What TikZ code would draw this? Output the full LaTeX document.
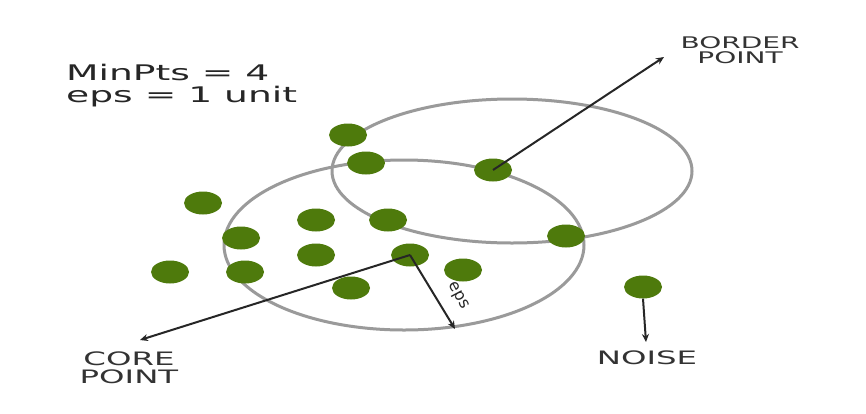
\documentclass[tikz,border=0pt]{standalone}
\usepackage{fontspec}
\setmainfont{DejaVu Sans}
\newfontfamily\widefont[FakeStretch=1.75]{DejaVu Sans}
\usetikzlibrary{shapes.geometric,arrows.meta}
\definecolor{dotgreen}{HTML}{4E7A0C}
\definecolor{ringgray}{HTML}{9A9A9A}
\tikzset{
  pt/.style={ellipse,fill=dotgreen,minimum width=38pt,minimum height=23pt,inner sep=0pt},
  ring/.style={draw=ringgray,line width=3pt},
  arr/.style={draw=black!85,line width=2pt,-{Stealth[length=8pt,width=7pt]}},
  lbl/.style={font=\widefont\fontsize{16}{15.5}\selectfont,text=black!80,align=center,inner sep=0pt},
  biglbl/.style={font=\widefont\fontsize{18.5}{18}\selectfont,text=black!80,align=center,inner sep=0pt}
}
\begin{document}
\begin{tikzpicture}[x=1pt,y=-1pt]
\useasboundingbox (0,0) rectangle (866,413);
\fill[white] (0,0) rectangle (866,413);
% rings
\draw[ring] (512,171) ellipse [x radius=180, y radius=72];
\draw[ring] (404,245) ellipse [x radius=180, y radius=85];
% points
\node[pt] (p1) at (348,135) {};
\node[pt] (p2) at (366,163) {};
\node[pt] (border) at (493,170) {};
\node[pt] (p4) at (203,203) {};
\node[pt] (p5) at (316,220) {};
\node[pt] (p6) at (388,220) {};
\node[pt] (p7) at (241,238) {};
\node[pt] (p8) at (566,236) {};
\node[pt] (p9) at (316,255) {};
\node[pt] (core) at (410,255) {};
\node[pt] (p11) at (170,272) {};
\node[pt] (p12) at (245,272) {};
\node[pt] (p13) at (463,270) {};
\node[pt] (p14) at (351,288) {};
\node[pt] (noise) at (643,287) {};
% labels
\node[anchor=west,align=left,inner sep=0pt,font=\widefont\fontsize{21.5}{22}\selectfont,text=black!85] (title) at (66,86) {MinPts = 4\\eps = 1 unit};
\node[lbl] (borderlbl) at (740,50) {BORDER\\POINT};
\node[biglbl] (corelbl) at (129,368) {CORE\\POINT};
\node[biglbl] (noiselbl) at (647,358) {NOISE};
\node[font=\fontsize{16}{16}\selectfont,text=black!85,rotate=-62,inner sep=0pt] (epslbl) at (458,296) {eps};
% arrow ends
\coordinate (bend) at (664,57);
\coordinate (cend) at (140,340);
\coordinate (eend) at (455,329);
\coordinate (nend) at (646,342);
% connectors
\draw[arr] (border.center) -- (bend);
\draw[arr] (core.center) -- (cend);
\draw[arr] (core.center) -- (eend);
\draw[arr] (noise.south) -- (nend);
\end{tikzpicture}
\end{document}
